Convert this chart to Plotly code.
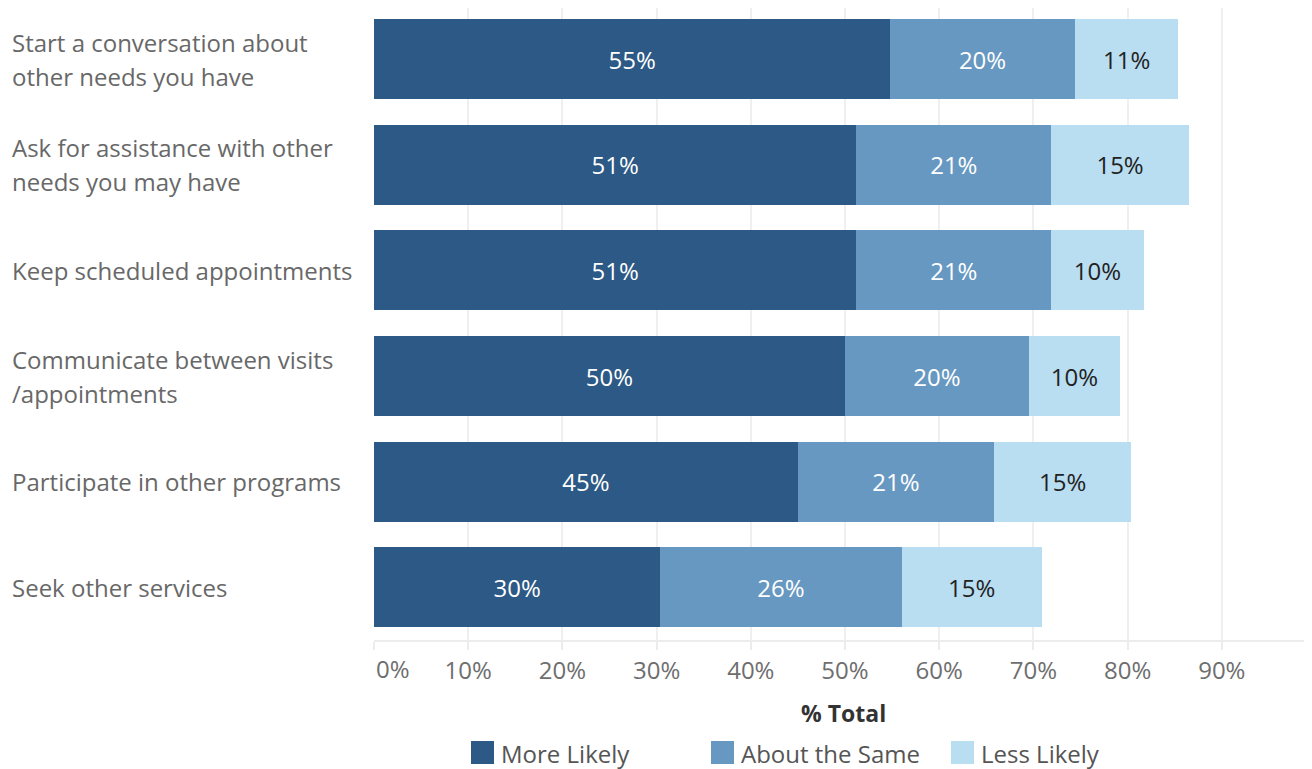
import plotly.graph_objects as go

categories = [
    "Start a conversation about<br>other needs you have",
    "Ask for assistance with other<br>needs you may have",
    "Keep scheduled appointments",
    "Communicate between visits<br>/appointments",
    "Participate in other programs",
    "Seek other services",
]
series_names = ["More Likely", "About the Same", "Less Likely"]
more_likely = [54.8, 51.2, 51.2, 50.0, 45.0, 30.4]
about_same = [19.6, 20.7, 20.7, 19.5, 20.8, 25.6]
less_likely = [11.0, 14.6, 9.8, 9.7, 14.6, 14.9]
tick_vals = [0, 10, 20, 30, 40, 50, 60, 70, 80, 90]
tick_text = ["", "10%", "20%", "30%", "40%", "50%", "60%", "70%", "80%", "90%"]

colors = ["#2c5985", "#6798c1", "#b9ddf1"]
text_colors = ["#ffffff", "#ffffff", "#222222"]
FONT = "Open Sans"

# page offset (browser body margin)
OFF = 8
W, H = 1312 - OFF, 769 - OFF
# plot area in page pixels
PL, PR, PT, PB = 374, 1312, 8, 640
L, T = PL - OFF, PT - OFF
R, B = W - (PR - OFF), H - (PB - OFF)
PW, PH = W - L - R, H - T - B
BAND = 105.6
LINE_GAP = 34


def px_x(px):
    return (px - PL) / PW


def px_y(py):
    return (PB - py) / PH


ycat = list(range(len(categories)))
fig = go.Figure()
for name, vals, col, tc in zip(series_names, [more_likely, about_same, less_likely], colors, text_colors):
    labels = [f"{int(v + 0.5)}%" for v in vals]
    fig.add_trace(go.Bar(
        y=ycat, x=vals, orientation="h", name=name,
        marker=dict(color=col, line=dict(width=0)),
        text=labels,
        textposition="inside", insidetextanchor="middle",
        textfont=dict(family=FONT, size=24, color=tc),
        showlegend=False, hoverinfo="skip",
    ))

annotations = []
for i, c in enumerate(categories):
    lines = c.split("<br>")
    m = len(lines)
    for k, line in enumerate(lines):
        annotations.append(dict(
            x=px_x(10), xref="paper", y=i, yref="y", text=line, showarrow=False,
            xanchor="left", yanchor="middle", align="left",
            yshift=-(k - (m - 1) / 2) * LINE_GAP,
            font=dict(family=FONT, size=24, color="#686868"),
        ))
# 0% tick label (offset like the original)
annotations.append(dict(
    x=0, xref="x", y=px_y(668), yref="paper", text="0%", showarrow=False,
    xanchor="left", yanchor="middle",
    font=dict(family=FONT, size=24, color="#6e6e6e"),
))
# axis title
annotations.append(dict(
    x=0.5, xref="paper", y=px_y(713), yref="paper", text="<b>% Total</b>", showarrow=False,
    xanchor="center", yanchor="middle",
    font=dict(family=FONT, size=23, color="#333333"),
))

shapes = []
legend_sq = [471, 711, 951]
for name, col, sx in zip(series_names, colors, legend_sq):
    shapes.append(dict(type="rect", xref="paper", yref="paper",
                       x0=px_x(sx), x1=px_x(sx + 23), y0=px_y(764), y1=px_y(741),
                       fillcolor=col, line=dict(width=0)))
    annotations.append(dict(
        x=px_x(sx + 28), xref="paper", y=px_y(753), yref="paper", text=name, showarrow=False,
        xanchor="left", yanchor="middle",
        font=dict(family=FONT, size=24, color="#555555"),
    ))

fig.update_layout(
    width=W, height=H,
    margin=dict(l=L, r=R, t=T, b=B, autoexpand=False),
    barmode="stack", bargap=0.243,
    plot_bgcolor="white", paper_bgcolor="white",
    font=dict(family=FONT),
    annotations=annotations, shapes=shapes,
    uniformtext=dict(mode="show", minsize=10),
)
fig.update_xaxes(
    range=[0, PW / 9.42], tickvals=tick_vals, ticktext=tick_text,
    showgrid=True, gridcolor="#efefef", gridwidth=1.5,
    zeroline=False, showline=True, linecolor="#ececec", linewidth=1.5,
    ticks="outside", ticklen=8, tickcolor="#ececec", tickwidth=1.5,
    tickfont=dict(family=FONT, size=24, color="#6e6e6e"),
    automargin=False, fixedrange=True,
)
n = len(categories)
fig.update_yaxes(
    range=[n - 0.5, n - 0.5 - PH / BAND], showticklabels=False, showgrid=False,
    zeroline=False, showline=False, ticks="", automargin=False, fixedrange=True,
)
fig.write_html("out.html")
